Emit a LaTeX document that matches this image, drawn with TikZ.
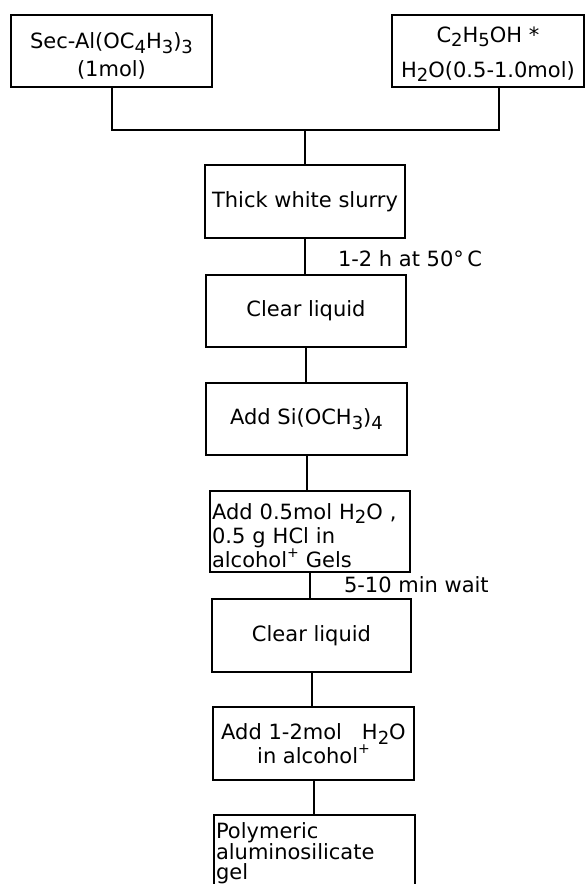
\documentclass[tikz,border=0pt]{standalone}
\usepackage{fontspec}
\setmainfont{DejaVu Sans}
\newcommand{\chemsub}[1]{\raisebox{-0.22em}{\fontsize{18}{18}\selectfont #1}}
\newcommand{\chemsup}[1]{\raisebox{0.45em}{\fontsize{14}{14}\selectfont #1}}
\begin{document}
\begin{tikzpicture}[x=1pt,y=-1pt,line width=2pt,
  box/.style={draw, line width=2pt, inner xsep=2pt, inner ysep=3pt, outer sep=0pt,
    font=\fontsize{21}{23.5}\selectfont, align=center, anchor=north west},
  plainbox/.style={inner xsep=2pt, inner ysep=8pt, outer sep=0pt,
    font=\fontsize{21}{20.5}\selectfont, align=left, anchor=north west},
  lbl/.style={font=\fontsize{21}{23}\selectfont, anchor=west, inner sep=0pt},
  conn/.style={line width=2pt}]
\useasboundingbox (0,0) rectangle (586,884);
\clip (0,0) rectangle (586,884);

\node[box, minimum width=201pt, minimum height=72pt, font=\fontsize{21}{28}\selectfont] (A) at (11,15)
  {\rule{0pt}{26pt}Sec-Al(OC\chemsub{4}H\chemsub{3})\chemsub{3}\\(1mol)};
\node[box, minimum width=192pt, minimum height=72pt, font=\fontsize{21}{35}\selectfont] (B) at (392,15)
  {\rule{0pt}{22pt}C\chemsub{2}H\chemsub{5}OH *\\H\chemsub{2}O(0.5-1.0mol)};

\node[box, minimum width=200pt, minimum height=73pt] (slurry) at (205,165) {Thick white slurry};
\node[lbl] (l1) at (337,259) {1-2 h at 50°\,C};
\node[box, minimum width=200pt, minimum height=72pt] (clear1) at (206,275) {Clear liquid};
\node[box, minimum width=201pt, minimum height=72pt] (addsi) at (206,383)
  {Add Si(OCH\chemsub{3})\chemsub{4}};
\node[box, minimum width=200pt, minimum height=81pt, align=left, text width=196pt,
  font=\fontsize{21}{24}\selectfont] (add05) at (210,491)
  {\rule{0pt}{24pt}Add 0.5mol H\chemsub{2}O ,\\0.5 g HCl in\\alcohol\chemsup{+} Gels};
\node[lbl] (l2) at (343,585) {5-10 min wait};
\node[box, minimum width=199pt, minimum height=73pt] (clear2) at (212,599) {Clear liquid};
\node[box, minimum width=201pt, minimum height=73pt] (add12) at (213,707)
  {Add 1-2mol\hspace{20pt}H\chemsub{2}O\\in alcohol\chemsup{+}};
\node[plainbox, text width=197pt] (poly) at (214,815)
  {Polymeric\\aluminosilicate\\gel};
\draw[conn] ([yshift=-40pt]poly.south west) -- (poly.north west) -- (poly.north east) -- ([yshift=-40pt]poly.south east);

\coordinate (jn) at (305,130);
\draw[conn] (A.south) |- (jn) -| ([xshift=11pt]B.south);
\draw[conn] (jn) -- (slurry.north);
\draw[conn] (slurry.south) -- (slurry.south |- clear1.north);
\draw[conn] (clear1.south) -- (clear1.south |- addsi.north);
\draw[conn] (addsi.south) -- (addsi.south |- add05.north);
\draw[conn] (add05.south) -- (add05.south |- clear2.north);
\draw[conn] (clear2.south) -- (clear2.south |- add12.north);
\draw[conn] (add12.south) -- (add12.south |- poly.north);
\end{tikzpicture}
\end{document}
